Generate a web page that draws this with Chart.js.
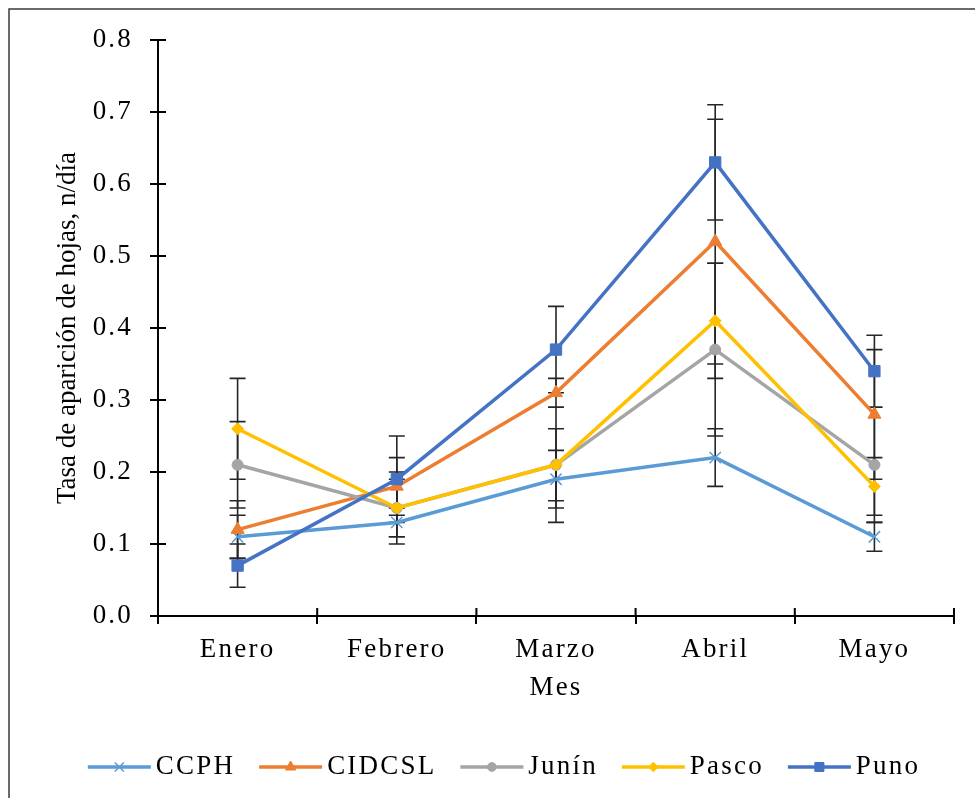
<!DOCTYPE html>
<html>
<head>
<meta charset="utf-8">
<script src="https://cdn.jsdelivr.net/npm/chart.js@4.4.1/dist/chart.umd.min.js"></script>
<style>
html,body{margin:0;padding:0;background:#fff;}
#wrap{width:975px;height:798px;position:relative;}
</style>
</head>
<body>
<div id="wrap"><canvas id="c" width="975" height="798"></canvas></div>
<script>
// ---- data ----
const months = ['Enero', 'Febrero', 'Marzo', 'Abril', 'Mayo'];
const seriesNames = ['CCPH', 'CIDCSL', 'Junín', 'Pasco', 'Puno'];
const ccph   = [0.11, 0.13, 0.19, 0.22, 0.11];
const cidcsl = [0.12, 0.18, 0.31, 0.52, 0.28];
const junin  = [0.21, 0.15, 0.21, 0.37, 0.21];
const pasco  = [0.26, 0.15, 0.21, 0.41, 0.18];
const puno   = [0.07, 0.19, 0.37, 0.63, 0.34];
const ccphErr   = [0.03, 0.02, 0.04, 0.04, 0.02];
const cidcslErr = [0.04, 0.04, 0.02, 0.17, 0.09];
const juninErr  = [0.06, 0.05, 0.05, 0.12, 0.08];
const pascoErr  = [0.07, 0.04, 0.08, 0.08, 0.04];
const punoErr   = [0.03, 0.06, 0.06, 0.08, 0.05];
const yTickMin = 0, yTickMax = 0.8, yTickStep = 0.1;
const xTitle = 'Mes';
const yTitle = 'Tasa de aparición de hojas, n/día';

const FONT = "'Liberation Serif', 'Times New Roman', serif";
const FS = 27;
const LS = '2.2px';

function ds(label, data, err, color, style, radius, order) {
  return {
    label, data, err,
    borderColor: color, backgroundColor: color,
    pointBorderColor: color, pointBackgroundColor: color,
    borderWidth: 3.5, pointStyle: style, pointRadius: radius,
    pointBorderWidth: style === 'crossRot' ? 1.5 : 1,
    tension: 0, fill: false, order
  };
}

const datasets = [
  ds(seriesNames[0], ccph, ccphErr, '#5B9BD5', 'crossRot', 8, 5),
  ds(seriesNames[1], cidcsl, cidcslErr, '#ED7D31', 'triangle', 7.5, 4),
  ds(seriesNames[2], junin, juninErr, '#A5A5A5', 'circle', 5.5, 3),
  ds(seriesNames[3], pasco, pascoErr, '#FFC000', 'rectRot', 6, 2),
  ds(seriesNames[4], puno, punoErr, '#4472C4', 'rect', 8, 1)
];

const frame = {
  id: 'frame',
  beforeDraw(chart) {
    const ctx = chart.ctx;
    ctx.save();
    ctx.fillStyle = '#fff';
    ctx.fillRect(0, 0, chart.width, chart.height);
    ctx.strokeStyle = '#3a3a3a';
    ctx.lineWidth = 1.5;
    ctx.strokeRect(9, 9, chart.width + 20, chart.height + 20);
    ctx.restore();
    ctx.letterSpacing = LS;   // mimic the wide lettering of the reference
  }
};

const errorBars = {
  id: 'errorBars',
  beforeDatasetsDraw(chart) {
    const ctx = chart.ctx;
    const y = chart.scales.y;
    ctx.save();
    ctx.strokeStyle = '#262626';
    ctx.lineWidth = 1.6;
    chart.data.datasets.forEach((d, di) => {
      const meta = chart.getDatasetMeta(di);
      meta.data.forEach((pt, i) => {
        const v = d.data[i], e = d.err[i];
        const yt = y.getPixelForValue(v + e), yb = y.getPixelForValue(v - e);
        const x = pt.x;
        ctx.beginPath();
        ctx.moveTo(x, yt); ctx.lineTo(x, yb);
        ctx.moveTo(x - 8, yt); ctx.lineTo(x + 8, yt);
        ctx.moveTo(x - 8, yb); ctx.lineTo(x + 8, yb);
        ctx.stroke();
      });
    });
    ctx.restore();
  }
};

const innerTicks = {
  id: 'innerTicks',
  afterDraw(chart) {
    const ctx = chart.ctx;
    const {x, y} = chart.scales;
    const area = chart.chartArea;
    ctx.save();
    ctx.strokeStyle = '#000';
    ctx.lineWidth = 2;
    ctx.beginPath();
    y.ticks.forEach(t => {
      const py = y.getPixelForValue(t.value);
      ctx.moveTo(area.left, py); ctx.lineTo(area.left + 8, py);
    });
    for (let i = 0; i <= months.length; i++) {
      const px = x.getPixelForValue(i - 0.5);
      ctx.moveTo(px, area.bottom); ctx.lineTo(px, area.bottom - 8);
    }
    ctx.stroke();
    // y axis title (drawn here so the rotated text has no extra letter spacing)
    ctx.letterSpacing = '0px';
    ctx.translate(68, (area.top + area.bottom) / 2);
    ctx.rotate(-Math.PI / 2);
    ctx.fillStyle = '#000';
    ctx.font = FS + 'px ' + FONT;
    ctx.textAlign = 'center';
    ctx.textBaseline = 'middle';
    ctx.fillText(yTitle, 0, 0);
    ctx.restore();
  }
};

const customLegend = {
  id: 'customLegend',
  afterDraw(chart) {
    const ctx = chart.ctx;
    ctx.save();
    ctx.letterSpacing = LS;
    ctx.font = FS + 'px ' + FONT;
    const lineLen = 63, gap = 5, spacing = 24;
    const items = chart.data.datasets.map(d => ({d, w: ctx.measureText(d.label).width}));
    const total = items.reduce((s, it) => s + lineLen + gap + it.w, 0) + spacing * (items.length - 1);
    let xPos = 504 - total / 2;
    const yPos = 767;
    items.forEach(({d, w}) => {
      ctx.strokeStyle = d.borderColor;
      ctx.fillStyle = d.borderColor;
      ctx.lineWidth = 3.5;
      ctx.beginPath();
      ctx.moveTo(xPos, yPos); ctx.lineTo(xPos + lineLen, yPos);
      ctx.stroke();
      ctx.lineWidth = d.pointBorderWidth;
      Chart.helpers.drawPoint(ctx, {
        pointStyle: d.pointStyle, radius: d.pointRadius * 0.8, rotation: 0,
        borderWidth: d.pointBorderWidth
      }, xPos + lineLen / 2, yPos);
      ctx.fillStyle = '#000';
      ctx.textBaseline = 'middle';
      ctx.textAlign = 'left';
      ctx.fillText(d.label, xPos + lineLen + gap, yPos);
      xPos += lineLen + gap + w + spacing;
    });
    ctx.restore();
  }
};

new Chart(document.getElementById('c'), {
  type: 'line',
  data: { labels: months, datasets },
  plugins: [frame, errorBars, innerTicks, customLegend],
  options: {
    responsive: false,
    animation: false,
    devicePixelRatio: 1,
    layout: { padding: { left: 0, right: 21, top: 40, bottom: 70 } },
    plugins: { legend: { display: false }, tooltip: { enabled: false } },
    scales: {
      x: {
        type: 'category',
        offset: true,
        grid: { offset: true, drawOnChartArea: false, drawTicks: true, tickLength: 8, color: '#000', lineWidth: 2 },
        border: { display: true, color: '#000', width: 2 },
        ticks: { color: '#000', font: { family: FONT, size: FS }, padding: 10, maxRotation: 0, autoSkip: false },
        title: { display: true, text: xTitle, color: '#000', font: { family: FONT, size: FS }, padding: { top: 0, bottom: 24 } },
        afterFit(s) { s.height = 112; }
      },
      y: {
        min: yTickMin, max: yTickMax,
        ticks: { stepSize: yTickStep, color: '#000', font: { family: FONT, size: FS }, padding: 17,
                 callback: v => Number(v).toFixed(1) },
        grid: { drawOnChartArea: false, drawTicks: true, tickLength: 8, color: '#000', lineWidth: 2 },
        border: { display: true, color: '#000', width: 2 },
        title: { display: false },
        afterFit(s) { s.width = 158; }
      }
    }
  }
});
</script>
</body>
</html>
